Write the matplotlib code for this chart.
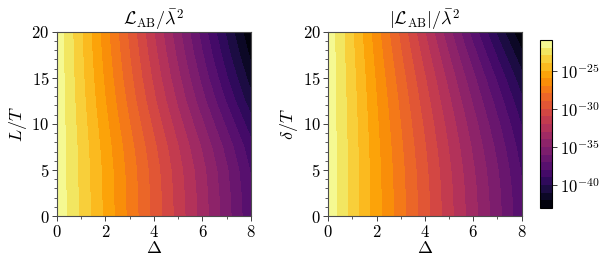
import numpy as np
import matplotlib
matplotlib.use("Agg")
import matplotlib.pyplot as plt
from matplotlib.colors import Normalize
from matplotlib.ticker import MultipleLocator, FixedLocator, FuncFormatter

plt.rcParams['font.family'] = ['cmr10', 'DejaVu Serif']
plt.rcParams['mathtext.fontset'] = 'cm'
plt.rcParams['axes.formatter.use_mathtext'] = True

# grid coordinates
delta = [0, 1, 2, 3, 4, 5, 6, 7, 8]
yvals = [0, 2.5, 5, 7.5, 10, 12.5, 15, 17.5, 20]

# log10 of L_AB / lambda^2 (left panel), rows = y (L/T), cols = Delta
log_left = [
    [-21.25, -23.25, -25.27, -27.30, -29.33, -31.42, -33.47, -35.60, -37.80],
    [-21.25, -23.26, -25.30, -27.34, -29.38, -31.49, -33.55, -35.69, -37.90],
    [-21.25, -23.29, -25.35, -27.42, -29.49, -31.62, -33.71, -35.88, -38.11],
    [-21.26, -23.36, -25.50, -27.63, -29.78, -31.98, -34.15, -36.38, -38.67],
    [-21.27, -23.48, -25.74, -27.99, -30.26, -32.57, -34.87, -37.21, -39.59],
    [-21.28, -23.61, -26.00, -28.38, -30.80, -33.22, -35.66, -38.13, -40.61],
    [-21.29, -23.72, -26.23, -28.72, -31.25, -33.78, -36.34, -38.91, -41.47],
    [-21.29, -23.82, -26.43, -29.01, -31.65, -34.27, -36.94, -39.60, -42.24],
    [-21.30, -23.90, -26.60, -29.27, -32.00, -34.70, -37.46, -40.20, -42.90],
]

# log10 of |L_AB| / lambda^2 (right panel), rows = y (delta/T), cols = Delta
log_right = [
    [-21.27, -23.40, -25.60, -27.60, -29.60, -31.65, -33.65, -35.65, -37.78],
    [-21.27, -23.41, -25.62, -27.63, -29.64, -31.70, -33.71, -35.72, -37.86],
    [-21.27, -23.43, -25.66, -27.70, -29.75, -31.84, -33.89, -35.93, -38.10],
    [-21.27, -23.47, -25.74, -27.83, -29.94, -32.08, -34.18, -36.29, -38.50],
    [-21.28, -23.53, -25.85, -28.02, -30.20, -32.41, -34.60, -36.79, -39.06],
    [-21.28, -23.60, -25.99, -28.25, -30.54, -32.84, -35.14, -37.43, -39.78],
    [-21.29, -23.68, -26.16, -28.54, -30.94, -33.36, -35.78, -38.20, -40.65],
    [-21.29, -23.79, -26.37, -28.89, -31.45, -34.00, -36.58, -39.15, -41.72],
    [-21.30, -23.90, -26.60, -29.27, -32.00, -34.70, -37.46, -40.20, -42.90],
]

level_exponents = list(range(-43, -20))
cbar_tick_exponents = [-40, -35, -30, -25]

titles = [r'$\mathcal{L}_{\rm AB}/\bar{\lambda}^2$', r'$|\mathcal{L}_{\rm AB}|/\bar{\lambda}^2$']
ylabels = [r'$L/T$', r'$\delta/T$']

fig = plt.figure(figsize=(6.10, 2.69), dpi=100)
ax1 = fig.add_axes([0.0934, 0.197, 0.318, 0.685])
ax2 = fig.add_axes([0.538, 0.197, 0.317, 0.685])
cax = fig.add_axes([0.885, 0.2268, 0.0202, 0.6245])

levels = np.array(level_exponents, dtype=float)
norm = Normalize(vmin=levels[0], vmax=levels[-1])
X, Y = np.meshgrid(np.array(delta, float), np.array(yvals, float))

cs = None
for ax, data, title, ylab in zip([ax1, ax2], [log_left, log_right], titles, ylabels):
    Z = np.array(data, dtype=float)
    cs = ax.contourf(X, Y, Z, levels=levels, norm=norm, cmap='inferno')
    ax.set_xlim(0, 8)
    ax.set_ylim(0, 20)
    ax.set_title(title, fontsize=13, pad=3)
    ax.set_xlabel(r'$\Delta$', fontsize=13, labelpad=0)
    ax.set_ylabel(ylab, fontsize=13, labelpad=2)
    ax.xaxis.set_major_locator(MultipleLocator(2))
    ax.xaxis.set_minor_locator(MultipleLocator(1))
    ax.yaxis.set_major_locator(MultipleLocator(5))
    ax.yaxis.set_minor_locator(MultipleLocator(1))
    ax.tick_params(which='major', direction='out', length=3.5, width=0.7, labelsize=12, color='0.25', pad=2)
    ax.tick_params(which='minor', direction='out', length=2.2, width=0.6, color='0.25')
    for sp in ax.spines.values():
        sp.set_color('0.3')
        sp.set_linewidth(0.8)

cb = fig.colorbar(cs, cax=cax)
cb.ax.yaxis.set_major_locator(FixedLocator(cbar_tick_exponents))
cb.ax.yaxis.set_major_formatter(FuncFormatter(lambda v, p: r'$10^{%d}$' % int(round(v))))
cb.ax.minorticks_off()
cb.ax.tick_params(labelsize=12, length=3.5, width=0.7, color='0.25', pad=2)
cb.outline.set_linewidth(0.8)

fig.savefig('out.png', dpi=100)
